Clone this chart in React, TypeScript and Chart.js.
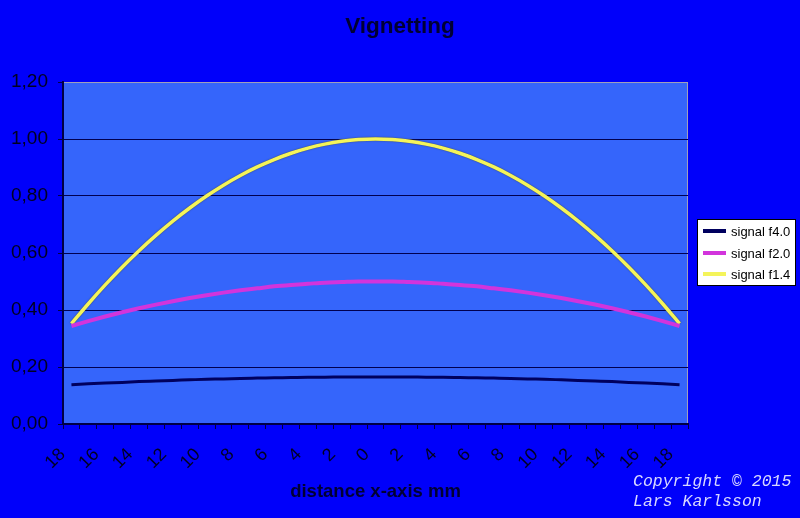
import React, { useEffect, useRef } from "react";
import { Chart, registerables } from "chart.js";

Chart.register(...registerables);

const categories: string[] = [
  "18", "17", "16", "15", "14", "13", "12", "11", "10", "9", "8", "7", "6", "5", "4", "3", "2", "1",
  "0",
  "1", "2", "3", "4", "5", "6", "7", "8", "9", "10", "11", "12", "13", "14", "15", "16", "17", "18",
];

const signalF40: number[] = [
  0.138, 0.141, 0.144, 0.146, 0.149, 0.151, 0.153, 0.155, 0.157, 0.158, 0.16, 0.161, 0.162, 0.163, 0.164, 0.164, 0.165, 0.165,
  0.165,
  0.165, 0.165, 0.164, 0.164, 0.163, 0.162, 0.161, 0.16, 0.158, 0.157, 0.155, 0.153, 0.151, 0.149, 0.146, 0.144, 0.141, 0.138,
];

const signalF20: number[] = [
  0.344, 0.361, 0.377, 0.392, 0.406, 0.419, 0.431, 0.442, 0.452, 0.461, 0.469, 0.476, 0.483, 0.488, 0.492, 0.496, 0.498, 0.5,
  0.5,
  0.5, 0.498, 0.496, 0.492, 0.488, 0.483, 0.476, 0.469, 0.461, 0.452, 0.442, 0.431, 0.419, 0.406, 0.392, 0.377, 0.361, 0.344,
];

const signalF14: number[] = [
  0.352, 0.422, 0.488, 0.55, 0.608, 0.662, 0.712, 0.758, 0.8, 0.838, 0.872, 0.902, 0.928, 0.95, 0.968, 0.982, 0.992, 0.998,
  1.0,
  0.998, 0.992, 0.982, 0.968, 0.95, 0.928, 0.902, 0.872, 0.838, 0.8, 0.758, 0.712, 0.662, 0.608, 0.55, 0.488, 0.422, 0.352,
];

const seriesNames: string[] = ["signal f4.0", "signal f2.0", "signal f1.4"];
const seriesColors: string[] = ["#00005e", "#d234dc", "#f4f45a"];
const yTicks: number[] = [0, 0.2, 0.4, 0.6, 0.8, 1.0, 1.2];

const chartTitle = "Vignetting";
const xAxisTitle = "distance x-axis mm";
const copyrightLines: string[] = ["Copyright \u00a9 2015", "Lars Karlsson"];

const FONT = "'Liberation Sans', Arial, sans-serif";

export default function App() {
  const ref = useRef<HTMLCanvasElement | null>(null);

  useEffect(() => {
    const canvas = ref.current;
    if (!canvas) return;

    const decor = {
      id: "decor",
      beforeDraw(chart: any) {
        const { ctx, chartArea } = chart;
        ctx.save();
        ctx.fillStyle = "#0000fa";
        ctx.fillRect(0, 0, chart.width, chart.height);
        ctx.fillStyle = "#3565fb";
        ctx.fillRect(chartArea.left, chartArea.top, chartArea.right - chartArea.left, chartArea.bottom - chartArea.top);
        ctx.strokeStyle = "#a0a0b8";
        ctx.lineWidth = 1;
        ctx.strokeRect(chartArea.left + 0.5, chartArea.top + 0.5, chartArea.right - chartArea.left - 1, chartArea.bottom - chartArea.top - 1);
        ctx.restore();
      },
      beforeDatasetDraw(chart: any, args: any) {
        const ctx = chart.ctx;
        ctx.save();
        if (args.index === 2) {
          ctx.shadowColor = "rgba(60,60,40,0.9)";
          ctx.shadowBlur = 1.5;
        }
      },
      afterDatasetDraw(chart: any) {
        chart.ctx.restore();
      },
      afterDraw(chart: any) {
        const { ctx, chartArea } = chart;
        ctx.save();
        // title
        ctx.fillStyle = "#000033";
        ctx.font = `bold 22.5px ${FONT}`;
        ctx.textAlign = "center";
        ctx.textBaseline = "middle";
        ctx.fillText(chartTitle, 400, 27);
        // x axis title
        ctx.font = `bold 18.5px ${FONT}`;
        ctx.fillText(xAxisTitle, (chartArea.left + chartArea.right) / 2, 492);
        // copyright
        ctx.fillStyle = "#d8d8ff";
        ctx.font = `italic 16.5px 'Liberation Mono', 'Courier New', monospace`;
        ctx.textAlign = "left";
        ctx.fillText(copyrightLines[0], 633, 482);
        ctx.fillText(copyrightLines[1], 633, 502);
        // legend
        const lx = 697, ly = 219, lw = 99, lh = 67;
        ctx.fillStyle = "#ffffff";
        ctx.fillRect(lx, ly, lw, lh);
        ctx.strokeStyle = "#000000";
        ctx.lineWidth = 1;
        ctx.strokeRect(lx + 0.5, ly + 0.5, lw - 1, lh - 1);
        ctx.font = `13px ${FONT}`;
        ctx.textBaseline = "middle";
        const rows = [231, 253, 274];
        seriesNames.forEach((name, i) => {
          ctx.strokeStyle = seriesColors[i];
          ctx.lineWidth = 4;
          ctx.beginPath();
          ctx.moveTo(703, rows[i]);
          ctx.lineTo(726, rows[i]);
          ctx.stroke();
          ctx.fillStyle = "#000000";
          ctx.fillText(name, 731, rows[i] + 1);
        });
        ctx.restore();
      },
    };

    const mk = (label: string, data: number[], color: string, width: number) => ({
      label,
      data,
      borderColor: color,
      backgroundColor: color,
      borderWidth: width,
      pointRadius: 0,
      tension: 0.4,
      cubicInterpolationMode: "monotone" as const,
      fill: false,
    });

    const chart = new Chart(canvas, {
      type: "line",
      data: {
        labels: categories,
        datasets: [
          mk(seriesNames[0], signalF40, seriesColors[0], 3),
          mk(seriesNames[1], signalF20, seriesColors[1], 4),
          mk(seriesNames[2], signalF14, seriesColors[2], 3.5),
        ],
      },
      options: {
        animation: false,
        responsive: false,
        maintainAspectRatio: false,
        layout: { padding: { left: 0, top: 82, right: 112, bottom: 0 } },
        plugins: {
          legend: { display: false },
          title: { display: false },
          tooltip: { enabled: false },
        },
        scales: {
          x: {
            type: "category",
            offset: true,
            grid: {
              offset: true,
              drawOnChartArea: false,
              drawTicks: true,
              tickLength: 5,
              color: "#000044",
            },
            border: { display: true, color: "#000044", width: 2 },
            ticks: {
              autoSkip: false,
              minRotation: 45,
              maxRotation: 45,
              padding: 15,
              labelOffset: -9,
              color: "#000022",
              font: { family: FONT, size: 18 },
              callback: (_v: any, i: number) => (i % 2 === 0 ? categories[i] : ""),
            },
            afterFit: (scale: any) => {
              scale.height = 94;
            },
          },
          y: {
            min: 0,
            max: 1.2,
            afterBuildTicks: (scale: any) => {
              scale.ticks = yTicks.map((v) => ({ value: v }));
            },
            grid: {
              color: (c: any) => (c.tick && Math.abs(c.tick.value - 1.2) < 1e-6 ? "rgba(0,0,0,0)" : "#000050"),
              tickColor: "#000044",
              drawTicks: true,
              tickLength: 5,
              lineWidth: 1,
            },
            border: { display: true, color: "#000044", width: 2 },
            ticks: {
              padding: 10,
              color: "#000022",
              font: { family: FONT, size: 19 },
              callback: (v: any) => Number(v).toFixed(2).replace(".", ","),
            },
            afterFit: (scale: any) => {
              scale.width = 63;
            },
          },
        },
      },
      plugins: [decor],
    });

    return () => chart.destroy();
  }, []);

  return (
    <div style={{ position: "fixed", left: 0, top: 0, width: 800, height: 518 }}>
      <canvas ref={ref} width={800} height={518} style={{ display: "block", width: 800, height: 518 }} />
    </div>
  );
}
